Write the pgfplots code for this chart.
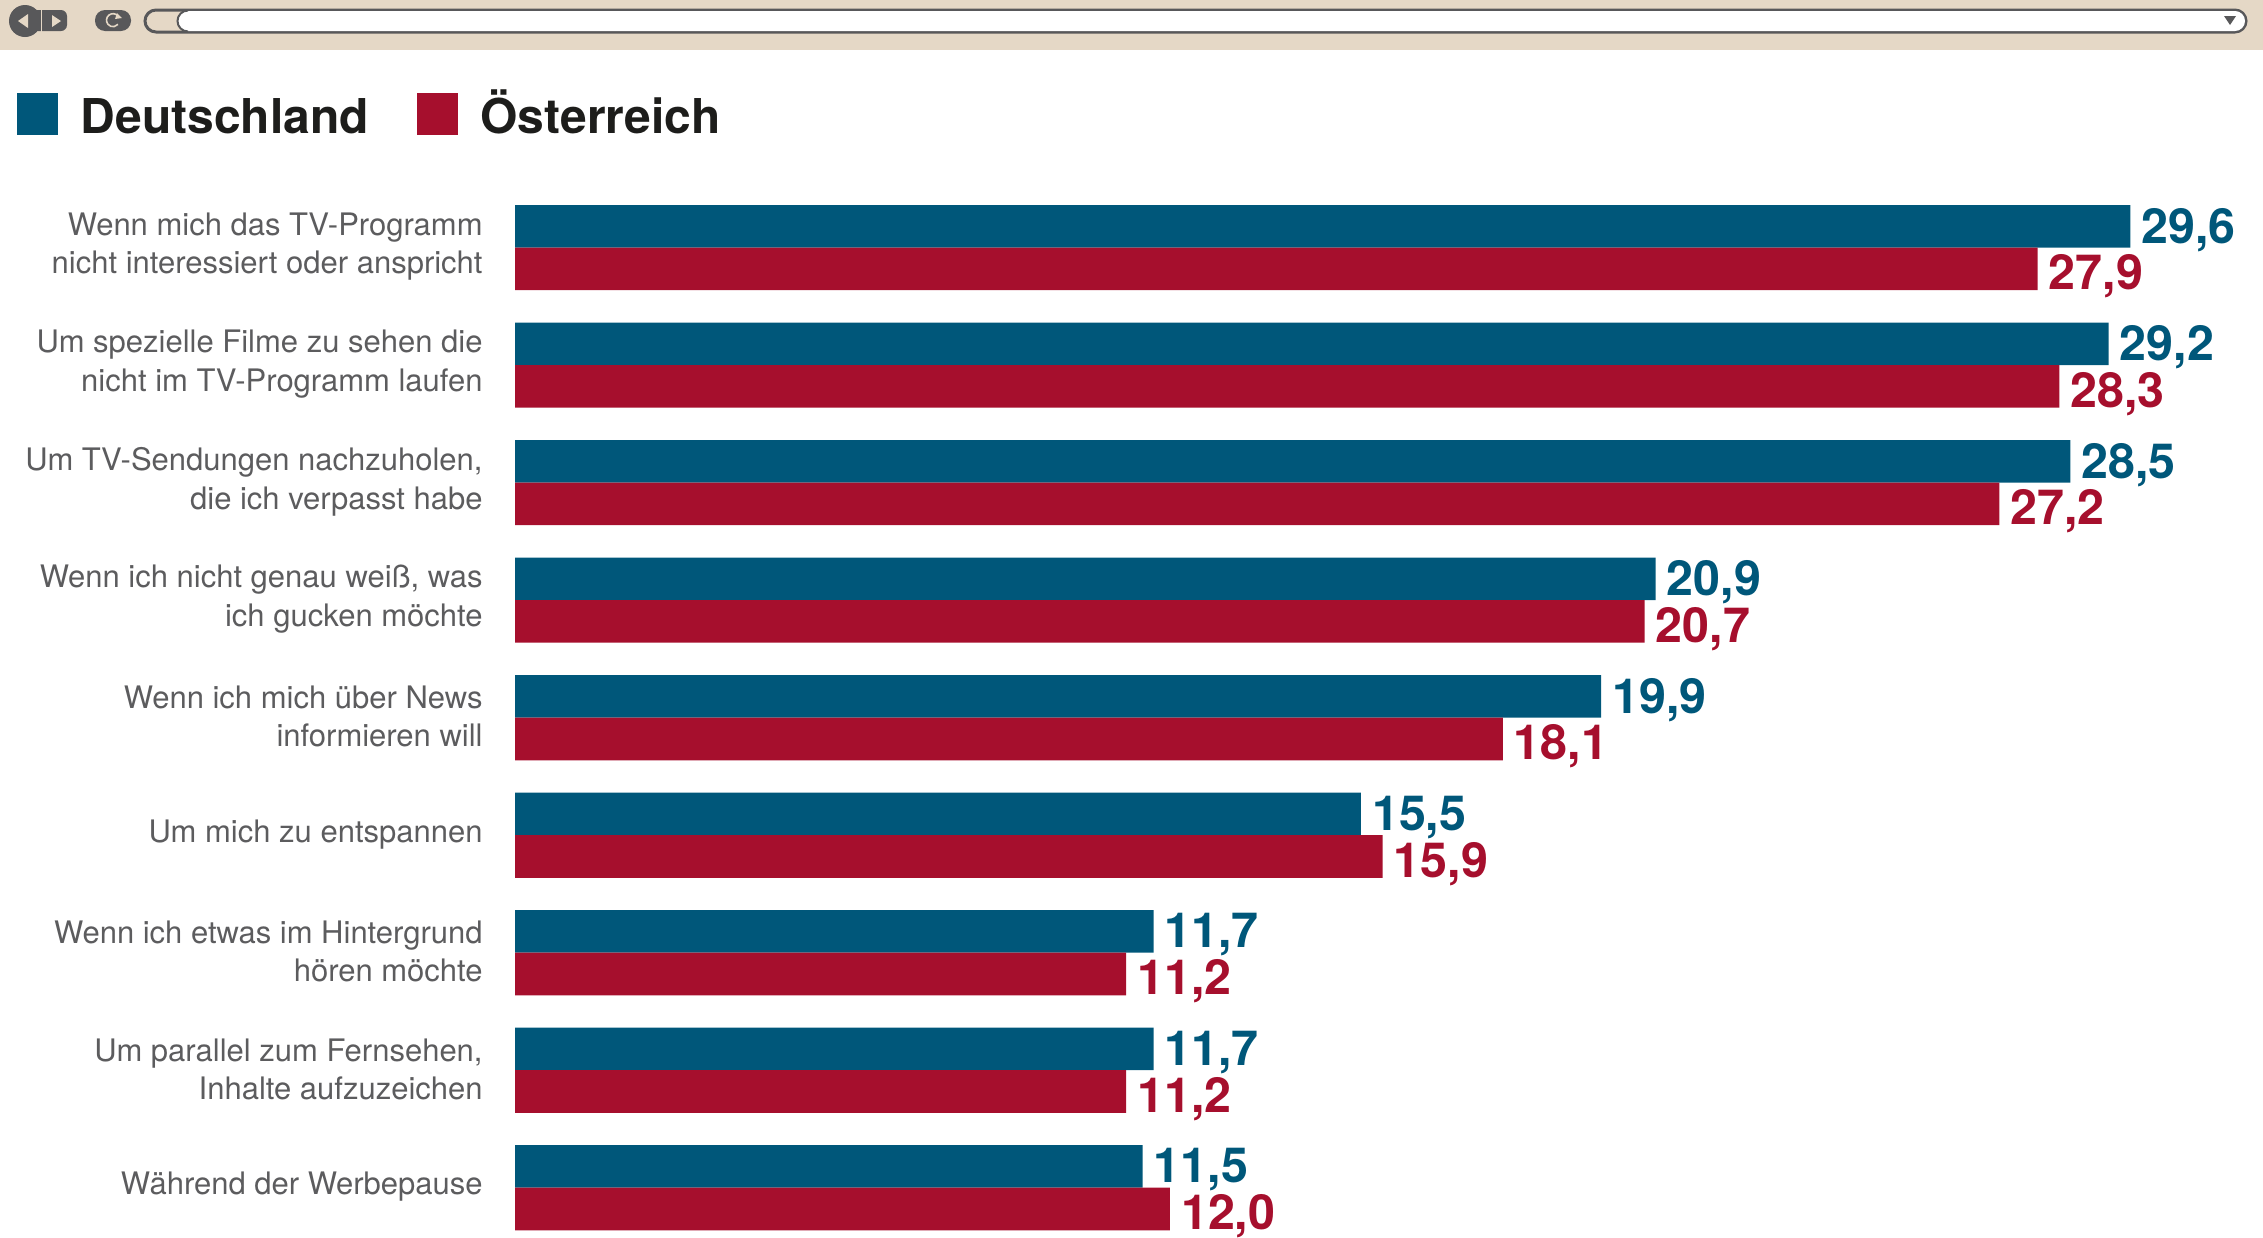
\documentclass[border=0pt]{standalone}
\usepackage{fontspec}
\setmainfont{TeX Gyre Heros}
\usepackage{pgfplots}
\pgfplotsset{compat=1.18}
\definecolor{deblue}{HTML}{00577A}
\definecolor{atred}{HTML}{A60F2D}
\definecolor{beige}{HTML}{E5D8C6}
\definecolor{bardark}{HTML}{58585A}
\definecolor{labgray}{HTML}{5C5C5E}
\definecolor{legblack}{HTML}{1D1D1B}
\begin{document}
\begin{tikzpicture}
\useasboundingbox (0,0) rectangle (1131.5pt,-618.5pt);
% browser bar
\begin{scope}[x=0.5pt,y=-0.5pt]
\fill[beige] (0,0) rectangle (2263,50);
\draw[bardark,line width=1.5pt,rounded corners=5.5pt] (145,10) rectangle (2246,32);
\fill[white,rounded corners=5pt] (178,11) rectangle (2245,31);
\draw[bardark,line width=1pt] (188,10.5) arc (270:90:10.5 and 10.5);
\fill[bardark,rounded corners=3pt] (30,10) rectangle (67,31);
\fill[bardark] (25,21) ellipse (16 and 16);
\draw[beige,line width=0.5pt] (41,8) -- (41,33);
\fill[beige] (28,14) -- (28,28) -- (18,21) -- cycle;
\fill[beige] (52,15) -- (52,27) -- (61,21) -- cycle;
\fill[bardark,rounded corners=5pt] (95,10) rectangle (131,31);
\draw[beige,line width=0.8pt] (118,16) arc (320:40:6.5 and 6.5);
\fill[beige] (117,13) -- (122,18) -- (115,19) -- cycle;
\fill[bardark] (2224,16) -- (2236,16) -- (2230,25) -- cycle;
\end{scope}
\begin{axis}[
  at={(257.5pt,0pt)}, anchor=north west,
  scale only axis, width=874pt, height=618.5pt,
  xmin=0, xmax=32.03, ymin=-2.107, ymax=8.42,
  y dir=reverse, xbar, bar width=21.3pt,
  clip=false,
  axis x line=none,
  axis y line*=left,
  y axis line style={draw=none},
  major tick length=0pt,
  ytick={0,...,8},
  yticklabels={
    {Wenn mich das TV-Programm\\nicht interessiert oder anspricht},
    {Um spezielle Filme zu sehen die\\nicht im TV-Programm laufen},
    {Um TV-Sendungen nachzuholen,\\die ich verpasst habe},
    {Wenn ich nicht genau weiß, was\\ich gucken möchte},
    {Wenn ich mich über News\\informieren will},
    {Um mich zu entspannen},
    {Wenn ich etwas im Hintergrund\\hören möchte},
    {Um parallel zum Fernsehen,\\Inhalte aufzuzeichen},
    {Während der Werbepause}},
  yticklabel style={align=right,font=\fontsize{15.5}{19.2}\selectfont,text=labgray,inner sep=0pt,yshift=0.5pt,xshift=-16pt},
  /pgf/number format/assume math mode=true,
  /pgf/number format/use comma,
  /pgf/number format/fixed,
  /pgf/number format/fixed zerofill,
  /pgf/number format/precision=1,
  nodes near coords,
  nodes near coords style={anchor=west,inner sep=0pt,font=\fontsize{24.2}{24}\selectfont\bfseries},
  legend columns=2,
  legend style={at={(-249pt,-46.5pt)},anchor=north west,draw=none,fill=none,inner sep=0pt,outer sep=0pt,
    font=\fontsize{24}{24}\selectfont\bfseries,text=legblack,
    cells={anchor=west,text height=18pt,text depth=1pt},
    /tikz/every odd column/.append style={column sep=9.4pt},
    /tikz/every even column/.append style={column sep=22pt}},
  legend image code/.code={\fill[#1,draw=none] (0pt,-9pt) rectangle (20.5pt,12pt);},
]
\addplot[fill=deblue,draw=none,bar shift=10.65pt,
  nodes near coords style={text=deblue,xshift=5.4pt,yshift=-1.8pt}] coordinates {
 (29.6,0) (29.2,1) (28.5,2) (20.9,3) (19.9,4) (15.5,5) (11.7,6) (11.7,7) (11.5,8)};
\addplot[fill=atred,draw=none,bar shift=-10.65pt,
  nodes near coords style={text=atred,xshift=5.4pt,yshift=-3.8pt}] coordinates {
 (27.9,0) (28.3,1) (27.2,2) (20.7,3) (18.1,4) (15.9,5) (11.2,6) (11.2,7) (12.0,8)};
\legend{Deutschland,Österreich}
\end{axis}
\end{tikzpicture}
\end{document}
